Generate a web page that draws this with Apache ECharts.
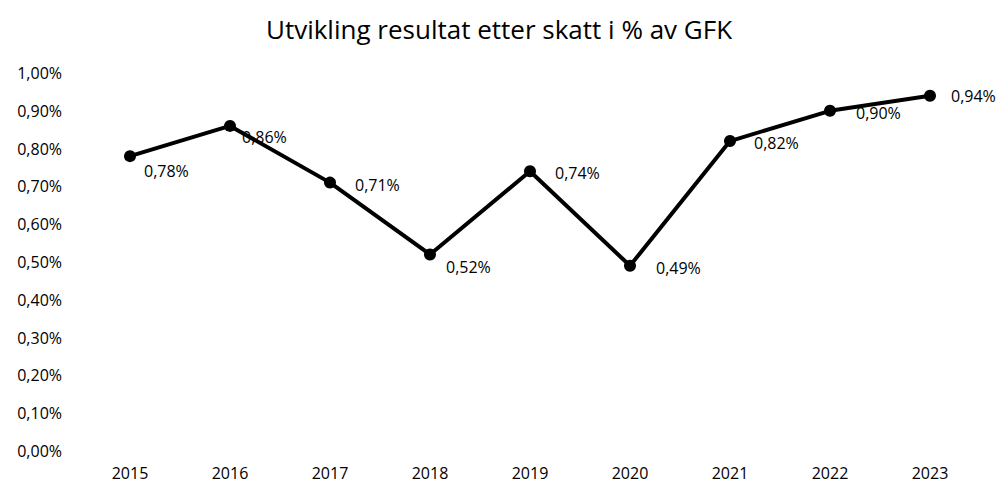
<!DOCTYPE html>
<html lang="no">
  <head>
    <meta charset="UTF-8" />
    <script src="https://cdn.jsdelivr.net/npm/echarts@6/dist/echarts.min.js"></script>
    <title>Utvikling resultat etter skatt</title>
  </head>
  <body style="margin: 0">
    <div id="chart" style="width: 998px; height: 484px"></div>
  </body>
</html>

<script>
  const years = ["2015", "2016", "2017", "2018", "2019", "2020", "2021", "2022", "2023"];
  const resultat = [0.78, 0.86, 0.71, 0.52, 0.74, 0.49, 0.82, 0.9, 0.94];

  // label offsets (x, y) from each point
  const labelOffsets = [[8, 15], [6, 11], [19, 2], [10, 13], [19, 2], [20, 2], [18, 2], [20, 2], [15, 0]];

  const fmt = (v) => v.toFixed(2).replace(".", ",") + "%";
  const font = "Open Sans";

  const chart = echarts.init(document.getElementById("chart"), null, { renderer: "svg" });
  chart.setOption({
    animation: false,
    title: {
      text: "Utvikling resultat etter skatt i % av GFK",
      left: "center",
      top: 11,
      textStyle: { fontFamily: font, fontSize: 26, fontWeight: "normal", color: "#000" },
    },
    grid: { left: 80, right: 18, top: 73, bottom: 33 },
    xAxis: {
      type: "category",
      data: years,
      axisLine: { show: false },
      axisTick: { show: false },
      axisLabel: { fontFamily: font, fontSize: 16, color: "#000", margin: 14 },
    },
    yAxis: {
      type: "value",
      min: 0,
      max: 1,
      interval: 0.1,
      splitLine: { show: false },
      axisLabel: { fontFamily: font, fontSize: 16, color: "#000", margin: 18, formatter: fmt },
    },
    series: [
      {
        type: "line",
        data: resultat.map((v, i) => ({
          value: v,
          label: { offset: labelOffsets[i] },
        })),
        symbol: "circle",
        symbolSize: 12,
        lineStyle: { color: "#000", width: 4 },
        itemStyle: { color: "#000" },
        label: {
          show: true,
          position: "right",
          distance: 0,
          align: "left",
          fontFamily: font,
          fontSize: 16,
          color: "#000",
          formatter: (p) => fmt(p.value),
        },
      },
    ],
  });
</script>
